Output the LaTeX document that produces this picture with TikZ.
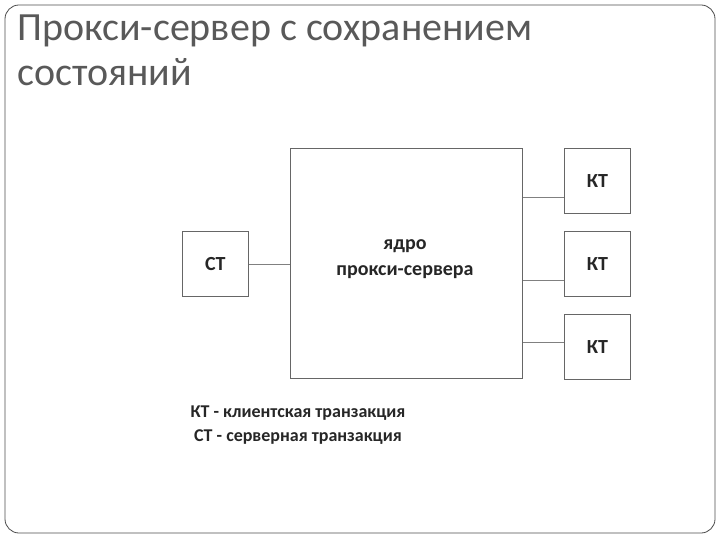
\documentclass[tikz,border=0pt]{standalone}
\usepackage{fontspec}
\setmainfont{Carlito}
\begin{document}
\begin{tikzpicture}[x=1pt,y=-1pt,
  blk/.style={draw=black!60,fill=white,line width=0.8pt,anchor=north west,inner sep=0pt},
  conn/.style={draw=black!50,line width=0.8pt},
  lbl/.style={font=\bfseries\fontsize{20}{26}\selectfont,text=black!85}]
\useasboundingbox (0,0) rectangle (720,540);
\draw[black!70,line width=0.8pt,rounded corners=14pt] (5,5) rectangle (715,533);
\node[anchor=north west,align=left,text=black!65,font=\fontsize{40}{45}\selectfont,inner sep=0pt] (title) at (17,15) {Прокси-сервер с сохранением\\состояний};
\node[blk,minimum width=232pt,minimum height=230pt] (core) at (290,148) {};
\node[lbl,align=center] (coret) at (405,259) {ядро\\прокси-сервера};
\node[blk,minimum width=66pt,minimum height=65pt,lbl] (ct) at (182,231) {};
\node[lbl] at (ct.center) {СТ};
\node[blk,minimum width=66pt,minimum height=65pt] (k1) at (564,148) {};
\node[blk,minimum width=66pt,minimum height=65pt] (k2) at (564,231) {};
\node[blk,minimum width=66pt,minimum height=65pt] (k3) at (564,314) {};
\node[lbl] at (k1.center) {КТ};
\node[lbl] at (k2.center) {КТ};
\node[lbl] at (k3.center) {КТ};
\draw[conn] (ct.east) -- (ct.east -| core.west);
\draw[conn] (core.east |- 0,197) -- (k1.west |- 0,197);
\draw[conn] (core.east |- 0,280) -- (k2.west |- 0,280);
\draw[conn] (core.east |- 0,342) -- (k3.west |- 0,342);
\node[align=center,font=\bfseries\fontsize{18}{24}\selectfont,text=black!85] (legend) at (298,425) {КТ - клиентская транзакция\\СТ - серверная транзакция};
\end{tikzpicture}
\end{document}
